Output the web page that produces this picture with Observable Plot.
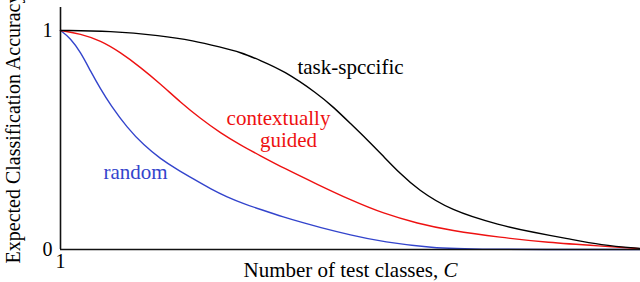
<!DOCTYPE html>
<html>
<head>
<meta charset="utf-8">
<script src="https://cdn.jsdelivr.net/npm/d3@7"></script>
<script src="https://cdn.jsdelivr.net/npm/@observablehq/plot@0.6"></script>
<style>
  html, body { margin: 0; padding: 0; background: #fff; }
  #chart svg { display: block; }
  #chart svg text, #chart svg tspan, #chart svg g { font-family: "Liberation Serif", "Times New Roman", serif !important; }
</style>
</head>
<body>
<div id="chart"></div>
<script>
// Curve readings (C in arbitrary units along the axis, expected accuracy 0..1)
const randomX = [1, 2, 3, 4, 5, 6, 7.67, 9.33, 11, 12.67, 14.33, 16, 17.67, 19.33, 21, 23.3, 25.5, 26.7, 30, 33.3, 38.3, 42, 59];
const randomY = [1, 0.965, 0.901, 0.815, 0.733, 0.66, 0.556, 0.476, 0.414, 0.365, 0.321, 0.277, 0.239, 0.209, 0.183, 0.148, 0.119, 0.104, 0.066, 0.034, 0.007, 0.0, 0.0];

const guidedX = [1, 3, 5, 7, 9, 11, 13, 15, 17, 19, 21, 23.3, 26.7, 30, 33.3, 36.7, 40, 45, 49.7, 55, 59];
const guidedY = [1, 0.985, 0.954, 0.9, 0.832, 0.756, 0.672, 0.598, 0.532, 0.477, 0.428, 0.372, 0.297, 0.226, 0.164, 0.119, 0.087, 0.055, 0.032, 0.016, 0.004];

const taskX = [1, 6, 11, 14.3, 17, 19, 21, 23.3, 26.7, 28.3, 30, 31.7, 33.3, 35, 36.7, 40, 45, 48.3, 51.7, 55, 59];
const taskY = [1, 0.998, 0.977, 0.954, 0.924, 0.901, 0.863, 0.817, 0.712, 0.65, 0.575, 0.5, 0.425, 0.345, 0.275, 0.178, 0.11, 0.078, 0.05, 0.02, 0.005];

const seriesNames = ["random", "contextually guided", "task-specific"];
const seriesColors = ["#3344cc", "#ee1111", "#000000"];

const yTicks = [0, 1];
const xTicks = [1];

const labelText = ["task-spccific", "contextually", "guided", "random"];
const labelX = [30, 22.8, 23.8, 8.5];
const labelY = [0.831, 0.598, 0.498, 0.352];
const labelColor = ["#000000", "#ee1111", "#ee1111", "#3344cc"];

const curves = [
  {name: seriesNames[0], xs: randomX, ys: randomY},
  {name: seriesNames[1], xs: guidedX, ys: guidedY},
  {name: seriesNames[2], xs: taskX, ys: taskY}
];
const rows = curves.flatMap(c => c.xs.map((x, i) => ({series: c.name, x, y: c.ys[i]})));
const labels = labelText.map((t, i) => ({t, x: labelX[i], y: labelY[i], c: labelColor[i]}));

const font = "'Liberation Serif', 'Times New Roman', serif";

const chart = Plot.plot({
  width: 640,
  height: 282,
  marginLeft: 60,
  marginRight: 0,
  marginTop: 7,
  marginBottom: 33,
  style: {fontFamily: font, fontSize: "20px", background: "#fff", overflow: "visible"},
  x: {domain: [1, 59], axis: null},
  y: {domain: [0, 1.105], axis: null},
  color: {domain: seriesNames, range: seriesColors},
  marks: [
    Plot.axisY(yTicks, {tickSize: 0, tickPadding: 8, fontSize: 20, tickFormat: d => String(d), label: null}),
    Plot.axisX(xTicks, {tickSize: 0, tickPadding: 4, fontSize: 20, tickFormat: d => String(d),
      label: "Number of test classes, C", labelArrow: "none", labelAnchor: "center", labelOffset: 27}),
    Plot.axisY({ticks: [], label: "Expected Classification Accuracy", labelArrow: "none", labelAnchor: "center",
      labelOffset: 55, fontSize: 20, tickSize: 0}),
    Plot.line(rows, {x: "x", y: "y", z: "series", stroke: "series", strokeWidth: 1.4, curve: "basis"}),
    Plot.ruleX([1], {stroke: "#111", strokeWidth: 1.6}),
    Plot.ruleY([0], {stroke: "#111", strokeWidth: 1.6}),
    Plot.text(labels, {x: "x", y: "y", text: "t", fill: "c", fontSize: 21, textAnchor: "middle"})
  ]
});

document.getElementById("chart").appendChild(chart);

const svg = d3.select(chart);
// Italicize the trailing "C" in the x-axis label
svg.selectAll("text").each(function() {
  const el = d3.select(this);
  if (el.text().trim() === "Number of test classes, C") {
    el.text(null);
    el.append("tspan").text("Number of test classes, ");
    el.append("tspan").attr("font-style", "italic").text("C");
    el.attr("font-size", 21);
  }
});
// Force the serif face on every text element
svg.selectAll("g, text, tspan")
  .attr("font-family", "Liberation Serif")
  .style("font-family", "'Liberation Serif', serif");
</script>
</body>
</html>
